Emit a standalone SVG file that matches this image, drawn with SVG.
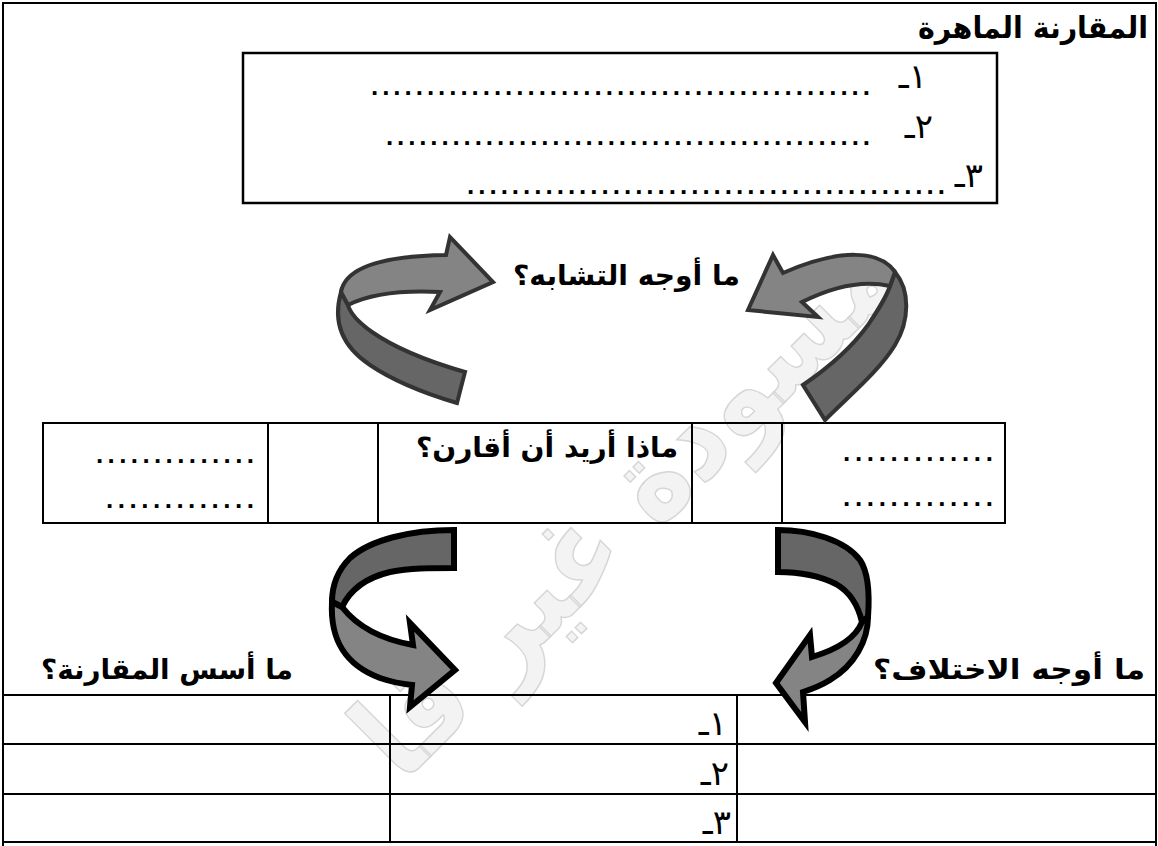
<svg xmlns="http://www.w3.org/2000/svg" width="1158" height="846" viewBox="0 0 1158 846">
<style>
  .ar { font-family: "DejaVu Sans", "Noto Sans", sans-serif; font-weight: bold; fill: #000; }
  .num { font-family: "DejaVu Sans", sans-serif; font-size: 34px; fill: #000; }
  .dots { font-family: "Liberation Sans", Arial, sans-serif; font-weight: bold; font-size: 26px; fill: #000; }
  .ln { stroke: #000; stroke-width: 2; fill: none; }
  .box { stroke: #000; stroke-width: 2.5; fill: none; }
  .arrU { stroke: #333; stroke-width: 4; stroke-linejoin: miter; }
  .arrL { stroke: #000; stroke-width: 6; stroke-linejoin: miter; }
  .back { fill: #666; }
  .front { fill: #848484; }
  .wm { font-family: "DejaVu Sans", sans-serif; font-weight: bold; font-size: 120px; fill: #f3f3f3; stroke: #d6d6d6; stroke-width: 1.5; }
</style>

<g id="watermark">
  <text class="wm" x="905" y="282" text-anchor="end" textLength="710" lengthAdjust="spacingAndGlyphs" transform="rotate(-45 905 282)">مسودة غير قا</text>
</g>

<g id="frame">
  <path class="ln" d="M3,846 V3 H1156 V846"/>
</g>

<g id="title">
  <text class="ar" x="1148" y="38" font-size="30" text-anchor="end" textLength="230" lengthAdjust="spacingAndGlyphs">المقارنة الماهرة</text>
</g>

<g id="similarities-box">
  <rect class="box" x="243" y="53" width="754" height="150"/>
  <text class="num" x="927" y="88" text-anchor="end">١ـ</text>
  <text class="dots" x="371" y="95" textLength="499" lengthAdjust="spacing">.............................................</text>
  <text class="num" x="933" y="138" text-anchor="end">٢ـ</text>
  <text class="dots" x="386" y="145" textLength="484" lengthAdjust="spacing">............................................</text>
  <text class="num" x="983" y="187" text-anchor="end">٣ـ</text>
  <text class="dots" x="467" y="194" textLength="478" lengthAdjust="spacing">...........................................</text>
</g>

<g id="similarities-label">
  <text class="ar" x="740" y="285" font-size="28" text-anchor="end" textLength="227" lengthAdjust="spacingAndGlyphs">ما أوجه التشابه؟</text>
</g>

<g id="compare-table">
  <rect class="ln" x="43" y="423" width="962" height="100"/>
  <line class="ln" x1="268" y1="423" x2="268" y2="523"/>
  <line class="ln" x1="378" y1="423" x2="378" y2="523"/>
  <line class="ln" x1="692" y1="423" x2="692" y2="523"/>
  <line class="ln" x1="782" y1="423" x2="782" y2="523"/>
  <text class="ar" x="678" y="457" font-size="28" text-anchor="end" textLength="262" lengthAdjust="spacingAndGlyphs">ماذا أريد أن أقارن؟</text>
  <text class="dots" x="96" y="463" textLength="158" lengthAdjust="spacing">..............</text>
  <text class="dots" x="106" y="508" textLength="148" lengthAdjust="spacing">.............</text>
  <text class="dots" x="843" y="461" textLength="150" lengthAdjust="spacing">.............</text>
  <text class="dots" x="843" y="506" textLength="150" lengthAdjust="spacing">.............</text>
</g>

<g id="differences-label">
  <text class="ar" x="1145" y="679" font-size="28" text-anchor="end" textLength="272" lengthAdjust="spacingAndGlyphs">ما أوجه الاختلاف؟</text>
</g>

<g id="bases-label">
  <text class="ar" x="293" y="679" font-size="28" text-anchor="end" textLength="252" lengthAdjust="spacingAndGlyphs">ما أسس المقارنة؟</text>
</g>

<g id="bases-table">
  <line class="ln" x1="3" y1="695" x2="1156" y2="695"/>
  <line class="ln" x1="3" y1="744" x2="1156" y2="744"/>
  <line class="ln" x1="3" y1="794" x2="1156" y2="794"/>
  <line class="ln" x1="3" y1="842" x2="1156" y2="842"/>
  <line class="ln" x1="390" y1="695" x2="390" y2="842"/>
  <line class="ln" x1="737" y1="695" x2="737" y2="842"/>
  <text class="num" x="727" y="735" text-anchor="end">١ـ</text>
  <text class="num" x="729" y="785" text-anchor="end">٢ـ</text>
  <text class="num" x="731" y="834" text-anchor="end">٣ـ</text>
</g>

<g id="connectors">
  <g id="arrow-top-left" class="arrU">
    <path class="back" d="M341,292 C333,320 340,345 370,365 C395,382 430,395 457,403 L465,372 C430,362 395,348 372,332 C358,322 350,313 348,305 Z"/>
    <path class="front" d="M446,255 L450,237 L493,282 L430,310 L440,292 C400,290 370,294 348,305 L341,292 C345,268 380,256 446,255 Z"/>
  </g>
  <g id="arrow-top-right" class="arrU">
    <path class="back" d="M895,272 C910,290 910,320 895,345 C880,370 850,395 825,420 L803,385 C825,370 850,350 868,325 C878,310 886,298 890,286 Z"/>
    <path class="front" d="M783,273 L773,255 L748,310 L818,317 L802,302 C830,288 860,279 890,286 L895,272 C880,250 840,248 783,273 Z"/>
  </g>
  <g id="arrow-bottom-left" class="arrL">
    <path class="back" d="M454,530 C410,530 370,540 350,558 C338,570 332,585 332,602 L342,607 C350,590 365,578 390,572 C410,568 430,568 454,568 Z"/>
    <path class="front" d="M332,602 C330,640 345,665 380,678 C392,682 402,684 412,685 L410,707 L455,670 L410,623 L413,645 C385,640 360,630 342,607 Z"/>
  </g>
  <g id="arrow-bottom-right" class="arrL">
    <path class="back" d="M778,530 C810,530 845,540 860,560 C868,572 870,590 868,617 L862,622 C858,605 850,592 836,584 C820,576 800,572 778,572 Z"/>
    <path class="front" d="M868,617 C868,640 855,665 830,680 C822,685 812,689 803,692 L805,722 L776,683 L810,635 L812,657 C835,650 855,640 862,622 Z"/>
  </g>
</g>
</svg>
